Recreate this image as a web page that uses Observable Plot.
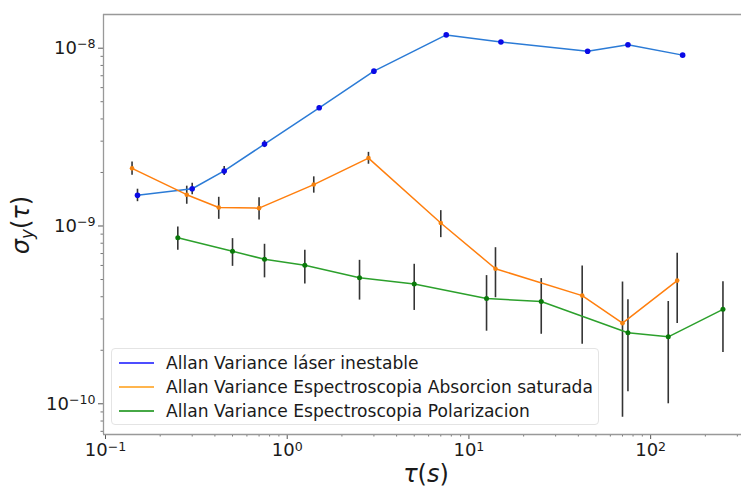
<!DOCTYPE html>
<html><head><meta charset="utf-8">
<script src="https://cdn.jsdelivr.net/npm/d3@7"></script>
<script src="https://cdn.jsdelivr.net/npm/@observablehq/plot@0.6"></script>
<style>
body{margin:0;background:#fff;}
#wrap{position:relative;width:741px;height:487px;overflow:hidden;font-family:"DejaVu Sans",sans-serif;color:#1a1a1a;}
#legend{position:absolute;left:111px;top:348px;width:488px;height:77px;box-sizing:border-box;border:1px solid #e4e4e4;border-radius:4px;background:rgba(255,255,255,0.85);font-size:17.1px;}
.row{position:absolute;left:0;height:24px;line-height:24px;white-space:nowrap;}
.row .sw{position:absolute;left:7px;top:11px;width:35px;height:0;border-top:2px solid;}
.row .lb{position:absolute;left:54px;top:0;}
#ylab{position:absolute;left:22px;top:225px;transform:translate(-50%,-50%) rotate(-90deg);font-size:24px;white-space:nowrap;}
#xlab{position:absolute;left:426px;top:474px;transform:translate(-50%,-50%);font-size:24px;white-space:nowrap;}
i{font-style:italic;}
</style></head><body><div id="wrap"></div>
<script>
// Blue: láser inestable
const tauBlue   = [0.15, 0.3, 0.45, 0.75, 1.5, 3, 7.5, 15, 45, 75, 150];
const sigmaBlue = [1.49e-9, 1.62e-9, 2.04e-9, 2.89e-9, 4.62e-9, 7.43e-9, 1.188e-8, 1.084e-8, 9.62e-9, 1.045e-8, 9.14e-9];
const errBlue   = [1.2e-10, 1.2e-10, 1.2e-10, 1.3e-10, 1.2e-10, 1.2e-10, 1.2e-10, 1.2e-10, 1.2e-10, 1.2e-10, 1.2e-10];
// Orange: Absorcion saturada
const tauOrange   = [0.14, 0.28, 0.42, 0.7, 1.4, 2.8, 7, 14, 42, 70, 140];
const sigmaOrange = [2.11e-9, 1.50e-9, 1.27e-9, 1.26e-9, 1.71e-9, 2.41e-9, 1.04e-9, 5.75e-10, 4.06e-10, 2.84e-10, 4.93e-10];
const errOrange   = [1.8e-10, 1.75e-10, 1.8e-10, 1.8e-10, 1.8e-10, 1.85e-10, 1.8e-10, 1.8e-10, 1.9e-10, 2.0e-10, 2.1e-10];
// Green: Polarizacion
const tauGreen   = [0.25, 0.5, 0.75, 1.25, 2.5, 5, 12.5, 25, 75, 125, 250];
const sigmaGreen = [8.59e-10, 7.21e-10, 6.50e-10, 6.01e-10, 5.12e-10, 4.72e-10, 3.91e-10, 3.76e-10, 2.51e-10, 2.38e-10, 3.40e-10];
const errGreen   = [1.28e-10, 1.28e-10, 1.39e-10, 1.29e-10, 1.29e-10, 1.37e-10, 1.35e-10, 1.30e-10, 1.34e-10, 1.38e-10, 1.46e-10];

const seriesNames = ["Allan Variance láser inestable", "Allan Variance Espectroscopia Absorcion saturada", "Allan Variance Espectroscopia Polarizacion"];
const xMajor = [0.1, 1, 10, 100];
const xMajorLabels = ["10^−1", "10^0", "10^1", "10^2"];
const yMajor = [1e-10, 1e-9, 1e-8];
const yMajorLabels = ["10^−10", "10^−9", "10^−8"];

function build(t, s, e) { return t.map((v, i) => ({tau: v, s: s[i], e: e[i]})); }
const blue = build(tauBlue, sigmaBlue, errBlue);
const orange = build(tauOrange, sigmaOrange, errOrange);
const green = build(tauGreen, sigmaGreen, errGreen);

function minors(lo, hi) {
  const out = [];
  for (let p = lo; p <= hi; p++) for (let k = 2; k <= 9; k++) out.push(k * Math.pow(10, p));
  return out;
}
const xMinor = minors(-2, 2);
const yMinor = minors(-11, -8).filter(v => v < 1.5e-8);

const xDomain = [Math.pow(10, -1.011), Math.pow(10, 2.5)];
const yDomain = [Math.pow(10, -10.1727), Math.pow(10, -7.8105)];

const errStyle = {stroke: "#111", strokeOpacity: 0.85, strokeWidth: 1.6};

const chart = Plot.plot({
  width: 741, height: 487,
  marginLeft: 103, marginRight: 0, marginTop: 14, marginBottom: 53,
  x: {type: "log", domain: xDomain},
  y: {type: "log", domain: yDomain},
  style: {fontFamily: "DejaVu Sans, sans-serif", fontSize: "18px", color: "#1a1a1a", background: "white", overflow: "visible"},
  marks: [
    Plot.axisX(xMinor.filter(v => v > xDomain[0] && v < xDomain[1]), {tickSize: 2.5, tickFormat: () => "", label: null, stroke: "#777"}),
    Plot.axisY(yMinor.filter(v => v > yDomain[0] && v < yDomain[1]), {tickSize: 2.5, tickFormat: () => "", label: null, stroke: "#777"}),
    Plot.axisX(xMajor, {tickSize: 5, tickPadding: 4, tickFormat: (d, i) => xMajorLabels[xMajor.indexOf(d)], label: null, stroke: "#555", fill: "#1a1a1a"}),
    Plot.axisY(yMajor, {tickSize: 5, tickPadding: 3, tickFormat: (d) => yMajorLabels[yMajor.indexOf(d)], label: null, stroke: "#555", fill: "#1a1a1a"}),
    Plot.ruleX([xDomain[0]], {stroke: "#999", strokeWidth: 1.3}),
    Plot.ruleY([yDomain[0]], {stroke: "#999", strokeWidth: 1.3}),
    Plot.ruleY([yDomain[1]], {stroke: "#999", strokeWidth: 1.3}),
    Plot.ruleX(blue, {x: "tau", y1: d => d.s - d.e, y2: d => d.s + d.e, ...errStyle}),
    Plot.ruleX(orange, {x: "tau", y1: d => d.s - d.e, y2: d => d.s + d.e, ...errStyle}),
    Plot.ruleX(green, {x: "tau", y1: d => d.s - d.e, y2: d => d.s + d.e, ...errStyle}),
    Plot.line(blue, {x: "tau", y: "s", stroke: "#2b7bd6", strokeWidth: 1.5}),
    Plot.line(orange, {x: "tau", y: "s", stroke: "#ff7f0e", strokeWidth: 1.5}),
    Plot.line(green, {x: "tau", y: "s", stroke: "#2ca02c", strokeWidth: 1.5}),
    Plot.dot(blue, {x: "tau", y: "s", r: 2.8, fill: "#0a0ae6", stroke: "none"}),
    Plot.dot(orange, {x: "tau", y: "s", r: 2.3, fill: "#f5820f", stroke: "none"}),
    Plot.dot(green, {x: "tau", y: "s", r: 2.5, fill: "#0a7a0a", stroke: "none"})
  ]
});

// render superscripts for tick labels
chart.querySelectorAll("text").forEach(t => {
  const txt = t.textContent;
  if (txt && txt.indexOf("^") > 0) {
    const [base, exp] = txt.split("^");
    t.textContent = "";
    const a = document.createElementNS("http://www.w3.org/2000/svg", "tspan");
    a.textContent = base;
    const b = document.createElementNS("http://www.w3.org/2000/svg", "tspan");
    b.textContent = exp;
    b.setAttribute("dy", "-0.45em");
    b.setAttribute("font-size", "0.7em");
    t.appendChild(a); t.appendChild(b);
  }
});

const wrap = document.getElementById("wrap");
wrap.appendChild(chart);

const colorsLegend = ["#4d4dff", "#ffb54d", "#46a846"];
const legend = document.createElement("div");
legend.id = "legend";
seriesNames.forEach((n, i) => {
  const r = document.createElement("div");
  r.className = "row";
  r.style.top = (1.7 + i * 24) + "px";
  r.innerHTML = `<span class="sw" style="border-color:${colorsLegend[i]}"></span><span class="lb">${n}</span>`;
  legend.appendChild(r);
});
wrap.appendChild(legend);

const yl = document.createElement("div");
yl.id = "ylab";
yl.innerHTML = '<i>σ</i><sub style="font-size:70%;vertical-align:-0.25em"><i>y</i></sub>(<i>τ</i>)';
wrap.appendChild(yl);
const xl = document.createElement("div");
xl.id = "xlab";
xl.innerHTML = '<i>τ</i>(<i>s</i>)';
wrap.appendChild(xl);
</script></body></html>
